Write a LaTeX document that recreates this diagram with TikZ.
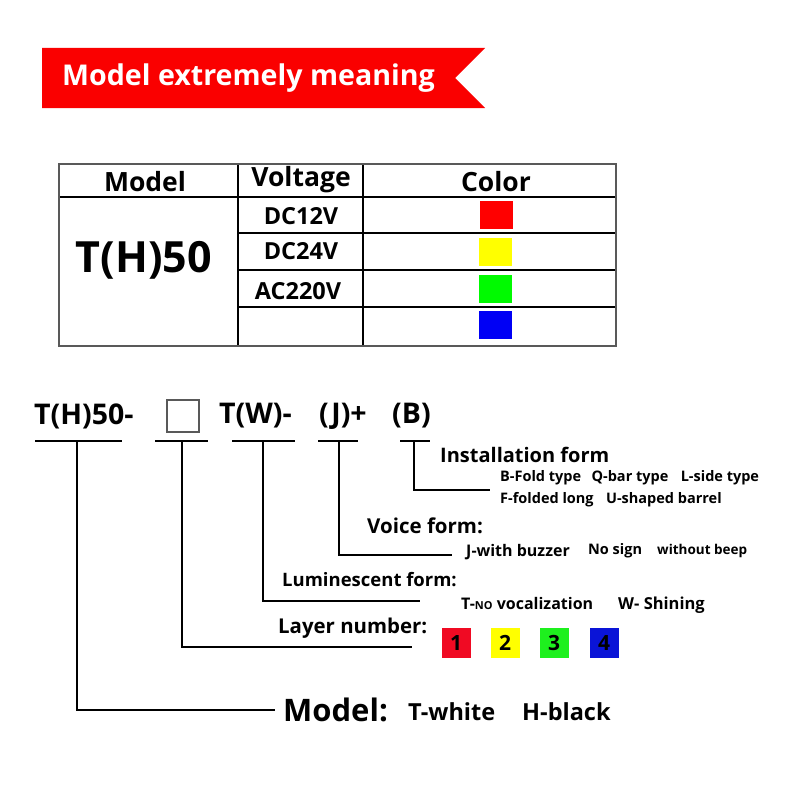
\documentclass[tikz,border=0pt]{standalone}
\usepackage{fontspec}
\setmainfont{Open Sans}
\usetikzlibrary{positioning,calc}
\definecolor{bannerred}{RGB}{250,0,0}
\definecolor{swred}{RGB}{255,0,0}
\definecolor{swyellow}{RGB}{255,255,0}
\definecolor{swgreen}{RGB}{0,250,0}
\definecolor{swblue}{RGB}{0,0,245}
\definecolor{lyred}{RGB}{240,10,35}
\definecolor{lygreen}{RGB}{30,240,30}
\definecolor{lyblue}{RGB}{10,20,215}
\newcommand{\fs}[1]{\fontsize{#1}{#1}\selectfont\bfseries}
\tikzset{lead/.style={line width=2.4pt},
  grid/.style={line width=2pt},
  head/.style={font=\fs{26.5}, inner sep=0pt},
  volt/.style={font=\fs{23.5}, inner sep=0pt},
  code/.style={font=\fs{28.5}, inner sep=0pt, anchor=west},
  big/.style={font=\fs{20}, inner sep=0pt, anchor=west},
  small/.style={font=\fs{14.5}, inner sep=0pt, anchor=west},
  swatch/.style={minimum width=33pt, minimum height=28pt, inner sep=0pt},
  layer/.style={minimum width=29pt, minimum height=30pt, inner sep=0pt, font=\fs{21}}}

\begin{document}
\begin{tikzpicture}[x=1pt, y=-1pt]
  \useasboundingbox (0,0) rectangle (800,800);
  % banner
  \fill[bannerred] (42,48) -- (485,48) -- (455,78) -- (485,108) -- (42,108) -- cycle;
  \node[anchor=west, text=white, font=\fs{28.6}, inner sep=0pt] (title) at (62,78) {Model extremely meaning};

  % table
  \draw[grid] (59,197) -- (616,197);
  \draw[grid] (238,164) -- (238,346);
  \draw[grid] (363,164) -- (363,346);
  \foreach \y in {233,270,307} \draw[grid] (238,\y) -- (616,\y);
  \draw[gray!70!black, line width=1.6pt] (59,164) rectangle (616,346);
  \node[head] (hmodel) at (145,182) {Model};
  \node[head] (hvolt) at (301,180) {Voltage};
  \node[head] (hcolor) at (496,182) {Color};
  \node[font=\fs{43}, inner sep=0pt] (model) at (144,260) {T(H)50};
  \node[volt] (v12) at (301,216) {DC12V};
  \node[volt] (v24) at (301,251) {DC24V};
  \node[volt] (v220) at (298,291) {AC220V};
  \node[swatch, fill=swred] (sred) at (496,215) {};
  \node[swatch, fill=swyellow] (syellow) at (495,252) {};
  \node[swatch, fill=swgreen] (sgreen) at (495,289) {};
  \node[swatch, fill=swblue] (sblue) at (495,325) {};

  % code line
  \node[code] (cth) at (34,416) {T(H)50-};
  \node[draw=gray!70!black, line width=2.2pt, minimum size=32pt, inner sep=0pt] (cbox) at (183,416) {};
  \node[code] (ctw) at (219,416) {T(W)-};
  \node[code] (cj) at (319,416) {(J)+};
  \node[code] (cb) at (392,416) {(B)};
  \draw[lead] (35,441) -- (122,441);
  \draw[lead] (155,441) -- (208,441);
  \draw[lead] (232,441) -- (295,441);
  \draw[lead] (318,441) -- (358,441);
  \draw[lead] (400,441) -- (430,441);
  \coordinate (uth) at (77,441);
  \coordinate (ubox) at (182,441);
  \coordinate (utw) at (263,441);
  \coordinate (uj) at (339,441);
  \coordinate (ub) at (414,441);
  \coordinate (eth) at (275,710);
  \coordinate (ebox) at (412,647);
  \coordinate (etw) at (420,601);
  \coordinate (ej) at (452,555);
  \coordinate (eb) at (490,490);
  \draw[lead] (uth) |- (eth);
  \draw[lead] (ubox) |- (ebox);
  \draw[lead] (utw) |- (etw);
  \draw[lead] (uj) |- (ej);
  \draw[lead] (ub) |- (eb);

  % installation form
  \node[big] (inst) at (440,455) {Installation form};
  \node[small] (bfold) at (500,478) {B-Fold type};
  \node[small, right=10pt of bfold] (qbar) {Q-bar type};
  \node[small, right=12pt of qbar] (lside) {L-side type};
  \node[small] (ffold) at (500,500) {F-folded long};
  \node[small, right=12pt of ffold] (ushape) {U-shaped barrel};

  % voice form
  \node[big, font=\fs{20.5}] (voice) at (367,526) {Voice form:};
  \node[small, font=\fs{16}] (jbuzz) at (466,552) {J-with buzzer};
  \node[small] (nosign) at (588,551) {No sign};
  \node[small, font=\fs{13.5}] (nobeep) at (657,551) {without beep};

  % luminescent form
  \node[big, font=\fs{18.5}] (lumi) at (282,580) {Luminescent form:};
  \node[small, font=\fs{16}] (tno) at (461,603) {T-{\fs{11}NO} vocalization};
  \node[small, font=\fs{16.5}] (wshine) at (618,605) {W- Shining};

  % layer number
  \node[big, font=\fs{20.4}] (layer) at (278,628) {Layer number:};
  \node[layer, fill=lyred] (l1) at (456,643) {1};
  \node[layer, fill=swyellow] (l2) at (505,643) {2};
  \node[layer, fill=lygreen] (l3) at (554,643) {3};
  \node[layer, fill=lyblue] (l4) at (604,643) {4};

  % model
  \node[small, font=\fs{31}] (mlab) at (283,710) {Model:};
  \node[small, font=\fs{23.5}] (twhite) at (408,712) {T-white};
  \node[small, font=\fs{23.5}] (hblack) at (522,712) {H-black};
\end{tikzpicture}
\end{document}
